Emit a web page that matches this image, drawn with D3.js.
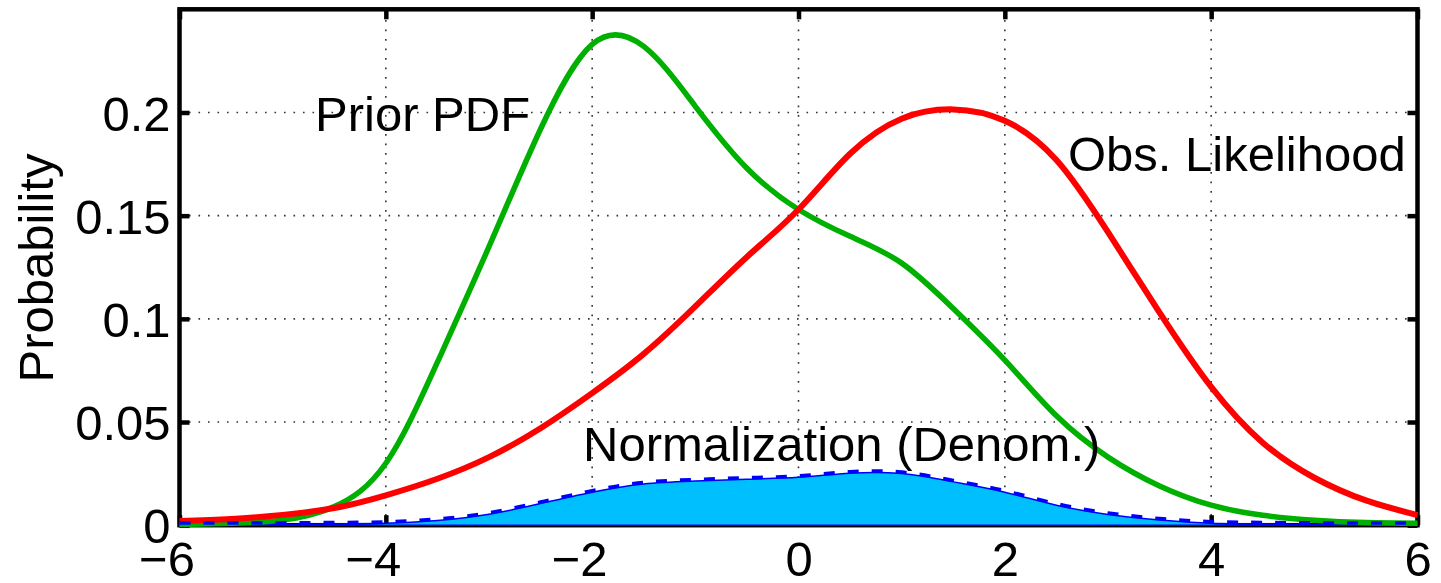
<!DOCTYPE html>
<html>
<head>
<meta charset="utf-8">
<script src="https://cdn.jsdelivr.net/npm/d3@7"></script>
<style>
    body { margin: 0; background: #fff; }
    svg { display: block; font-family: "Liberation Sans", Arial, Helvetica, sans-serif; }
</style>
</head>
<body>
<script>
// values
var xs = [-6, -5.5, -5, -4.5, -4, -3.5, -3, -2.5, -2, -1.5, -1, -0.5, 0, 0.5, 1, 1.5, 2, 2.5, 3, 3.5, 4, 4.5, 5, 5.5, 6];

var priorPdf = [0.0003, 0.0009, 0.0025, 0.009, 0.03, 0.079, 0.135, 0.192, 0.233, 0.232, 0.203, 0.173, 0.153,
    0.140, 0.127, 0.105, 0.080, 0.053, 0.033, 0.019, 0.0097, 0.0048, 0.0024, 0.0013, 0.001];

var obsLikelihood = [0.002, 0.003, 0.005, 0.0083, 0.0145, 0.0225, 0.033, 0.047, 0.064, 0.083, 0.106, 0.130, 0.153,
    0.180, 0.197, 0.2015, 0.196, 0.177, 0.142, 0.103, 0.067, 0.040, 0.023, 0.012, 0.0049];

var normalization = [0.0003, 0.0003, 0.0004, 0.0006, 0.0009, 0.0023, 0.0053, 0.0105, 0.016, 0.020, 0.0214, 0.0223, 0.0232,
    0.0252, 0.025, 0.021, 0.016, 0.0097, 0.0052, 0.0025, 0.001, 0.0006, 0.0004, 0.0003, 0.0003];

var xTicks = [-6, -4, -2, 0, 2, 4, 6];
var yTicks = [0, 0.05, 0.1, 0.15, 0.2];
var yTickLabels = ["0", "0.05", "0.1", "0.15", "0.2"];

var width = 1441,
    height = 583;

var svg = d3.select("body")
    .append("svg")
    .attr("width", width)
    .attr("height", height);

var x = d3.scaleLinear().domain([-6, 6]).range([179.5, 1417.5]);
var y = d3.scaleLinear().domain([0, 0.25]).range([525.2, 9.3]);

var fontSize = 49;

// dotted grid
var grid = svg.append("g").attr("class", "grid");

grid.selectAll("line.gx")
    .data(xTicks.slice(1, -1))
    .enter().append("line")
    .attr("class", "gx")
    .attr("x1", function (d) { return x(d); })
    .attr("x2", function (d) { return x(d); })
    .attr("y1", y(0))
    .attr("y2", y(0.25));

grid.selectAll("line.gy")
    .data(yTicks.slice(1))
    .enter().append("line")
    .attr("class", "gy")
    .attr("x1", x(-6))
    .attr("x2", x(6))
    .attr("y1", function (d) { return y(d); })
    .attr("y2", function (d) { return y(d); });

grid.selectAll("line")
    .style("stroke", "#333")
    .style("stroke-width", 1.6)
    .style("stroke-dasharray", "1.6,7.9");

// axes box
svg.append("rect")
    .attr("x", x(-6))
    .attr("y", y(0.25))
    .attr("width", x(6) - x(-6))
    .attr("height", y(0) - y(0.25))
    .style("fill", "none")
    .style("stroke", "#000")
    .style("stroke-width", 4.5);

var xAxis = svg.append("g")
    .attr("transform", "translate(0," + y(0) + ")")
    .call(d3.axisBottom(x).tickValues(xTicks).tickSizeInner(-10).tickSizeOuter(0).tickPadding(16)
        .tickFormat(function (d) { return d < 0 ? "\u2212" + Math.abs(d) : d; }));

xAxis.selectAll("text")
    .attr("dx", function (d) { return d < 0 ? -13 : 0; });

var yAxis = svg.append("g")
    .attr("transform", "translate(" + x(-6) + ",0)")
    .call(d3.axisLeft(y).tickValues(yTicks).tickSizeInner(-10).tickSizeOuter(0).tickPadding(9)
        .tickFormat(function (d, i) { return yTickLabels[i]; }));

yAxis.selectAll("text").attr("dy", "0.36em");

svg.append("g")
    .attr("transform", "translate(0," + y(0.25) + ")")
    .call(d3.axisTop(x).tickValues(xTicks).tickSizeInner(-10).tickSizeOuter(0).tickFormat(""));

svg.append("g")
    .attr("transform", "translate(" + x(6) + ",0)")
    .call(d3.axisRight(y).tickValues(yTicks).tickSizeInner(-10).tickSizeOuter(0).tickFormat(""));

svg.selectAll(".domain").remove();
svg.selectAll(".tick line")
    .style("stroke", "#000")
    .style("stroke-width", 4.5);
svg.selectAll(".tick text")
    .style("font-family", "'Liberation Sans', Arial, sans-serif")
    .style("font-size", fontSize + "px")
    .style("fill", "#000");

// curves
var points = function (vals) {
    return xs.map(function (d, i) { return [d, vals[i]]; });
};

var line = d3.line()
    .x(function (d) { return x(d[0]); })
    .y(function (d) { return y(d[1]); })
    .curve(d3.curveNatural);

var area = d3.area()
    .x(function (d) { return x(d[0]); })
    .y0(y(0))
    .y1(function (d) { return y(d[1]); })
    .curve(d3.curveNatural);

svg.append("path")
    .datum(points(normalization))
    .attr("d", area)
    .style("fill", "#00bfff")
    .style("stroke", "#0000ff")
    .style("stroke-width", 1.5);

svg.append("path")
    .datum(points(priorPdf))
    .attr("d", line)
    .style("fill", "none")
    .style("stroke", "#00b000")
    .style("stroke-width", 5.5);

svg.append("path")
    .datum(points(obsLikelihood))
    .attr("d", line)
    .style("fill", "none")
    .style("stroke", "#ff0000")
    .style("stroke-width", 6);

svg.append("path")
    .datum(points(normalization))
    .attr("d", line)
    .attr("transform", "translate(0,-1.5)")
    .style("fill", "none")
    .style("stroke", "#0000ff")
    .style("stroke-width", 3.5)
    .style("stroke-dasharray", "11,13");

// labels
var labels = svg.append("g")
    .style("font-size", fontSize + "px")
    .style("fill", "#000");

labels.append("text")
    .attr("x", 315)
    .attr("y", 131)
    .text("Prior PDF");

labels.append("text")
    .attr("x", 1068)
    .attr("y", 171)
    .text("Obs. Likelihood");

labels.append("text")
    .attr("x", 583)
    .attr("y", 461)
    .text("Normalization (Denom.)");

labels.append("text")
    .attr("transform", "translate(53,268) rotate(-90)")
    .attr("text-anchor", "middle")
    .text("Probability");
</script>
</body>
</html>
